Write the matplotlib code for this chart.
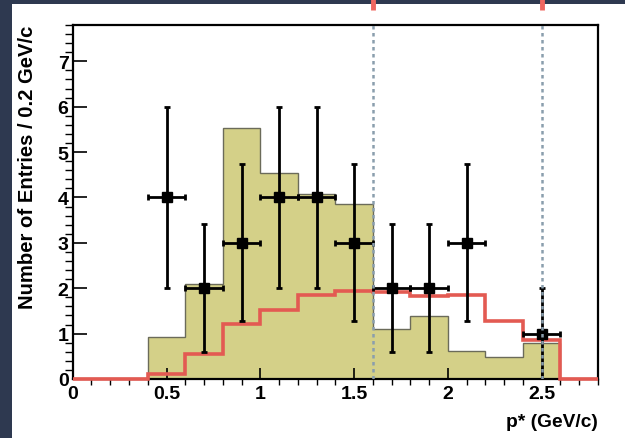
import matplotlib
matplotlib.use("Agg")
import matplotlib.pyplot as plt
import matplotlib.transforms as mtransforms
from matplotlib.patches import Rectangle
from matplotlib.ticker import MultipleLocator

plt.rcParams["font.family"] = ["Liberation Sans", "DejaVu Sans"]
plt.rcParams["font.weight"] = "bold"

# Histogram binning in p* (GeV/c), 0.2 GeV/c per bin
bin_edges = [0.0, 0.2, 0.4, 0.6, 0.8, 1.0, 1.2, 1.4, 1.6, 1.8, 2.0, 2.2, 2.4, 2.6, 2.8]
signal_edges = [0.4, 0.6, 0.8, 1.0, 1.2, 1.4, 1.6, 1.8, 2.0, 2.2, 2.4, 2.6]

# Filled expectation histogram (0.4 - 2.6 GeV/c)
signal_counts = [0.93, 2.09, 5.53, 4.55, 4.07, 3.85, 1.11, 1.39, 0.62, 0.48, 0.79]

# Red outline histogram over the full range
model_counts = [0.0, 0.0, 0.12, 0.56, 1.21, 1.52, 1.86, 1.95, 1.92, 1.83, 1.84, 1.28, 0.85, 0.0]

# Observed entries with statistical errors
data_p = [0.5, 0.7, 0.9, 1.1, 1.3, 1.5, 1.7, 1.9, 2.1, 2.5]
data_n = [4, 2, 3, 4, 4, 3, 2, 2, 3, 1]
data_err = [2.0, 1.41, 1.73, 2.0, 2.0, 1.73, 1.41, 1.41, 1.73, 1.0]
data_xerr = 0.1

# Selection boundaries
cut_lines = [1.6, 2.5]

W, H = 625, 439
fig = plt.figure(figsize=(W / 100, H / 100), dpi=100)
fig.patch.set_facecolor("#2e3950")

# White canvas on the dark slide background
canvas = Rectangle((12 / W, 0), (W - 12) / W, (H - 5) / H,
                   transform=fig.transFigure, facecolor="white",
                   edgecolor="none", zorder=-10)
fig.patches.append(canvas)

ax = fig.add_axes([72.7 / W, (H - 380) / H, (598 - 72.7) / W, (380 - 26) / H])
ax.set_zorder(1)
ax.set_facecolor("white")

ax.stairs(signal_counts, signal_edges, fill=True, facecolor="#d4d088",
          edgecolor="none", zorder=1)
ax.stairs(signal_counts, signal_edges, fill=False, baseline=0,
          edgecolor="#6b6b5a", linewidth=1.0, zorder=1.5)

ax.stairs(model_counts, bin_edges, fill=False, baseline=None,
          edgecolor="#e35a52", linewidth=2.6, zorder=3, clip_on=False)

ax.errorbar(data_p, data_n, xerr=data_xerr, yerr=data_err, fmt="s",
            color="black", markersize=7.5, linewidth=2.0, capsize=2.4,
            capthick=2.0, zorder=4)

for xc in cut_lines:
    ax.axvline(xc, color="#8a9ead", linewidth=1.8, linestyle=(0, (1.4, 1.4)),
               zorder=5)

# Red markers above the canvas at the selection boundaries
trans = mtransforms.blended_transform_factory(ax.transData, fig.transFigure)
for xc in cut_lines:
    ax.plot([xc, xc], [1.0, (H - 11) / H], transform=trans, color="#f0665f",
            linewidth=3.5, solid_capstyle="butt", clip_on=False, zorder=6)

ax.set_xlim(0, 2.8)
ax.set_ylim(0, 7.8)

ax.xaxis.set_major_locator(MultipleLocator(0.5))
ax.xaxis.set_minor_locator(MultipleLocator(0.1))
ax.yaxis.set_major_locator(MultipleLocator(1))
ax.yaxis.set_minor_locator(MultipleLocator(0.2))
ax.set_xticks([0, 0.5, 1, 1.5, 2, 2.5])
ax.set_xticklabels(["0", "0.5", "1", "1.5", "2", "2.5"])
ax.set_yticks([0, 1, 2, 3, 4, 5, 6, 7])

ax.tick_params(direction="in", top=False, right=False, labelsize=14,
               width=1.2, colors="black")
ax.tick_params(axis="y", which="major", length=10, pad=3)
ax.tick_params(axis="y", which="minor", length=6, width=1.0)
ax.tick_params(axis="x", which="major", length=8, pad=4)
ax.tick_params(axis="x", which="minor", length=4, width=1.0)
for lab in ax.get_xticklabels() + ax.get_yticklabels():
    lab.set_fontweight("bold")

for sp in ax.spines.values():
    sp.set_linewidth(1.6)
    sp.set_color("black")

ax.set_ylabel("Number of Entries / 0.2 GeV/c", fontsize=14.6,
              fontweight="bold", loc="top")
ax.yaxis.set_label_coords(-0.068, 1.0)
ax.set_xlabel("p* (GeV/c)", fontsize=13.8, fontweight="bold", loc="right")
ax.xaxis.set_label_coords(1.0, -0.097)

fig.savefig("out.png", dpi=100, facecolor=fig.get_facecolor())
